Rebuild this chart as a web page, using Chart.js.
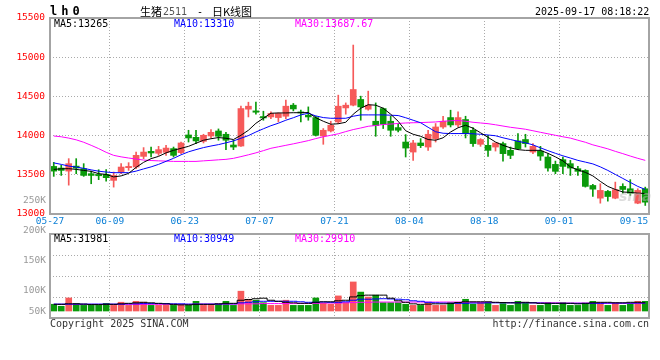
<!DOCTYPE html>
<html><head><meta charset="utf-8">
<script src="https://cdn.jsdelivr.net/npm/chart.js@4.4.1/dist/chart.umd.min.js"></script>
<style>
html,body{margin:0;padding:0;background:#fff;}
#wrap{position:relative;width:660px;height:360px;overflow:hidden;background:#fff;font-family:'DejaVu Sans Mono',monospace;}
.t{position:absolute;white-space:nowrap;line-height:10px;font-size:10px;}
canvas{position:absolute;left:0;}
</style></head>
<body><div id="wrap">
<canvas id="c1" width="660" height="228" style="top:0;width:660px;height:228px"></canvas>
<canvas id="c2" width="660" height="100" style="top:226px;width:660px;height:100px"></canvas>
</div>
<script>
// ---------- data ----------
const dates = ['05-27','05-28','05-29','05-30','06-03','06-04','06-05','06-06','06-09','06-10','06-11','06-12','06-13','06-16','06-17','06-18','06-19','06-20','06-23','06-24','06-25','06-26','06-27','06-30','07-01','07-02','07-03','07-04','07-07','07-08','07-09','07-10','07-11','07-14','07-15','07-16','07-17','07-18','07-21','07-22','07-23','07-24','07-25','07-28','07-29','07-30','07-31','08-01','08-04','08-05','08-06','08-07','08-08','08-11','08-12','08-13','08-14','08-15','08-18','08-19','08-20','08-21','08-22','08-25','08-26','08-27','08-28','08-29','09-01','09-02','09-03','09-04','09-05','09-08','09-09','09-10','09-11','09-12','09-15','09-16'];
const xTickDates = ['05-27','06-09','06-23','07-07','07-21','08-04','08-18','09-01','09-15'];
const xGridDates = ['06-09','06-23','07-07','07-21','08-04','08-18','09-01'];
const openP  = [13607,13586,13547,13611,13578,13514,13505,13505,13429,13535,13591,13599,13735,13799,13774,13786,13834,13783,14008,13978,13927,13995,14059,14017,13880,13867,14337,14315,14243,14238,14230,14247,14388,14302,14260,14230,13995,14059,14174,14353,14388,14461,14337,14183,14345,14183,14102,13918,13790,13906,13854,13962,14110,14230,14136,14205,14068,13889,13876,13854,13898,13812,13932,13950,13790,13803,13727,13633,13693,13642,13578,13556,13364,13202,13288,13202,13352,13322,13138,13322];
const highP  = [13659,13621,13706,13706,13642,13547,13565,13565,13535,13642,13655,13790,13847,13854,13863,13876,13854,13918,14068,14068,14017,14077,14085,14042,13941,14375,14426,14426,14311,14302,14290,14452,14410,14324,14366,14247,14090,14183,14516,14417,15155,14503,14567,14417,14353,14247,14154,14013,13941,13962,14068,14154,14247,14324,14302,14247,14102,13962,14004,13906,13918,13854,14026,14017,13898,13863,13770,13675,13727,13684,13607,13565,13377,13386,13301,13407,13386,13438,13322,13343];
const lowP   = [13480,13492,13368,13514,13480,13386,13438,13420,13343,13514,13556,13578,13706,13727,13748,13748,13727,13770,13918,13898,13906,13970,13941,13821,13821,13863,14238,14273,14196,14217,14174,14217,14315,14174,14196,13995,13889,14046,14154,14273,14379,14196,14324,13991,14090,13991,14046,13727,13684,13847,13812,13918,14090,14110,14110,13970,13863,13863,13735,13803,13675,13706,13821,13854,13770,13684,13547,13514,13514,13492,13492,13343,13223,13138,13164,13194,13266,13236,13131,13109];
const closeP = [13547,13556,13642,13586,13492,13492,13488,13463,13492,13599,13607,13748,13790,13778,13821,13841,13748,13906,13970,13932,14004,14042,13991,13941,13854,14345,14375,14298,14225,14282,14282,14375,14340,14289,14238,14004,14068,14132,14375,14388,14588,14366,14388,14128,14145,14068,14068,13841,13906,13872,14017,14110,14183,14136,14230,14026,13898,13950,13812,13906,13770,13748,13834,13898,13863,13739,13586,13544,13607,13586,13544,13352,13317,13301,13223,13310,13313,13266,13301,13151];
const ma5  = [13569,13576,13578,13569,13556,13544,13514,13505,13473,13486,13518,13595,13659,13706,13735,13780,13812,13838,13863,13902,13941,13960,13975,13966,13950,14004,14068,14157,14221,14285,14289,14289,14292,14292,14294,14228,14183,14145,14151,14170,14273,14349,14394,14388,14349,14273,14183,14062,14017,13991,13950,13941,13972,14046,14100,14132,14094,14036,13978,13918,13876,13844,13821,13812,13812,13812,13774,13729,13678,13601,13563,13531,13486,13416,13352,13313,13281,13275,13266,13262];
const ma10 = [13652,13633,13611,13599,13582,13563,13546,13535,13527,13527,13527,13547,13575,13601,13633,13672,13710,13755,13793,13821,13847,13867,13885,13908,13932,13966,14000,14046,14087,14126,14158,14196,14228,14264,14285,14251,14230,14221,14221,14221,14247,14264,14264,14264,14264,14260,14256,14228,14196,14164,14106,14049,14030,14026,14026,14026,14023,14017,14008,13998,13972,13950,13927,13908,13882,13844,13808,13774,13742,13714,13684,13662,13639,13601,13556,13505,13454,13403,13352,13313];
const ma30 = [13995,13985,13968,13946,13915,13876,13834,13787,13748,13729,13714,13701,13688,13682,13678,13675,13671,13671,13671,13671,13678,13684,13691,13697,13710,13732,13755,13780,13808,13838,13857,13876,13895,13915,13936,13962,13985,14004,14023,14051,14077,14097,14119,14129,14141,14147,14155,14161,14164,14166,14170,14174,14183,14189,14193,14183,14170,14161,14152,14138,14122,14106,14094,14081,14062,14042,14023,14004,13985,13968,13941,13915,13882,13857,13831,13799,13770,13739,13710,13684];
const volume = [26400,18500,51000,29900,22000,22000,22000,29900,22000,34300,22000,37800,34300,22000,22000,22000,22000,22000,22000,37800,22000,22000,26400,37800,22000,77400,45800,42200,32600,22000,22000,42200,22000,22000,22000,51000,29900,26400,59000,32600,113500,73900,54600,61600,32600,32600,32600,26400,22000,22000,32600,22000,22000,32600,32600,45800,26400,32600,32600,22000,29000,22000,37800,32600,22000,22000,32600,22000,32600,22000,22000,29900,37800,32600,22000,32600,22000,29900,37800,37800];
const volMa5  = [26000,26000,28000,28000,27000,25000,25000,26000,26000,28000,30000,32000,34000,32000,30000,28000,26000,24000,24000,26000,26000,26000,28000,30000,30000,42000,45000,48000,50000,42000,38000,34000,32000,30000,30000,34000,36000,36000,40000,42000,55000,60000,62000,62000,62000,50000,40000,34000,28000,26000,27000,28000,28000,30000,33000,36000,36000,36000,36000,34000,33000,32000,32000,34000,32000,30000,30000,30000,30000,30000,28000,30000,32000,34000,34000,32000,32000,34000,34000,31981];
const volMa10 = [27000,27000,27000,27000,27000,27000,27000,27000,27000,27000,28000,28000,29000,29000,29000,29000,28000,28000,27000,27000,27000,27000,27000,28000,28000,32000,34000,36000,38000,38000,38000,38000,38000,36000,34000,34000,35000,34000,34000,36000,42000,46000,46000,47000,48000,47000,46000,44000,40000,38000,34000,32000,31000,30000,30000,30000,31000,31000,32000,32000,32000,32000,32000,32000,32000,31000,30000,30000,30000,30000,30000,30000,30000,30000,31000,31000,31000,31000,31000,30949];
const volMa30 = [26000,26000,26000,26000,26000,26000,26000,26000,26000,26000,26000,26000,26000,26000,26000,26000,26000,26000,26000,27000,27000,27000,27000,27000,27000,28000,28000,28000,29000,29000,29000,29000,29000,30000,30000,30000,31000,31000,31000,32000,33000,34000,34000,35000,35000,35000,35000,35000,35000,35000,35000,35000,35000,35000,35000,34000,34000,34000,34000,33000,33000,33000,33000,33000,32000,32000,32000,32000,31000,31000,31000,31000,30000,30000,30000,30000,30000,30000,30000,29910];
const priceTicks = [13000,13500,14000,14500,15000,15500];
const volTickLabels = ['250K','200K','150K','100K','50K'];
const priceLegend = ['MA5:13265','MA10:13310','MA30:13687.67'];
const volLegend = ['MA5:31981','MA10:30949','MA30:29910'];
const titleCode = 'lh0';
const titleName = ['生猪','2511','-','日K线图'];
const stamp = '2025-09-17 08:18:22';
const footer = ['Copyright 2025 SINA.COM','http://finance.sina.com.cn'];

// ---------- styles ----------
const UP = '#f65a5a', DOWN = '#0a9a0a';
const MA_COLORS = ['#000000','#0000ff','#ff00ff'];
const MONO = "'DejaVu Sans Mono', monospace";
const GRID = '#aaaaaa';
const colors = dates.map((d,i) => closeP[i] >= openP[i] ? UP : DOWN);

// ---------- text ----------
const wrap = document.getElementById('wrap');
function addText(txt, css){ const s=document.createElement('span'); s.className='t'; s.textContent=txt; Object.assign(s.style, css); wrap.appendChild(s); return s; }
addText(titleCode,{left:'50px',top:'5px',fontWeight:'bold',fontSize:'12px',lineHeight:'12px',letterSpacing:'4px',color:'#000'});
const CJK = "'Noto Sans CJK SC',sans-serif";
addText(titleName[0],{left:'140px',top:'6px',fontSize:'11px',lineHeight:'11px',fontFamily:CJK,color:'#000'});
addText(titleName[1],{left:'163px',top:'7px',fontSize:'10px',color:'#555'});
addText(titleName[2],{left:'197px',top:'7px',fontSize:'10px',color:'#000'});
addText(titleName[3],{left:'212px',top:'6px',fontSize:'11px',lineHeight:'11px',fontFamily:CJK,color:'#000'});
addText(stamp,{left:'535px',top:'7px',color:'#000'});
const legX = [54,174,295];
priceLegend.forEach((t,i)=>addText(t,{left:legX[i]+'px',top:'19px',color:MA_COLORS[i]}));
volLegend.forEach((t,i)=>addText(t,{left:legX[i]+'px',top:'234px',color:MA_COLORS[i]}));
const volLabY = [200,230,260,290,311];
volTickLabels.forEach((t,i)=>{ const s=addText(t,{top:(volLabY[i]-5)+'px',color:'#999',fontSize:'9.5px'}); s.style.right=(660-46)+'px'; });
addText(footer[0],{left:'50px',top:'319px',color:'#333'});
const f2=addText(footer[1],{top:'319px',color:'#333'}); f2.style.right='11px';
addText('sina',{left:'619px',top:'189px',fontFamily:'DejaVu Sans, sans-serif',fontStyle:'italic',fontWeight:'bold',fontSize:'14px',lineHeight:'14px',color:'rgba(185,185,185,0.5)'});

// ---------- charts ----------
const frame = { id:'frame', afterDatasetsDraw(chart){ const {ctx, chartArea:a}=chart; ctx.save(); ctx.strokeStyle='#a4a4a4'; ctx.lineWidth=2; ctx.strokeRect(a.left, a.top, a.right-a.left, a.bottom-a.top); ctx.restore(); } };
const xGrid = { offset:true, drawTicks:false, lineWidth:1, color:(c)=> (c.index!==undefined && xGridDates.includes(dates[c.index])) ? GRID : 'rgba(0,0,0,0)' };

function maLine(data, color, stepped){ return {type:'line', data, borderColor:color, borderWidth:1, pointRadius:0, tension:0, stepped: stepped||false, order:0}; }

new Chart(document.getElementById('c1'), {
  type:'bar',
  data:{ labels:dates, datasets:[
    maLine(ma5, MA_COLORS[0]), maLine(ma10, MA_COLORS[1]), maLine(ma30, MA_COLORS[2]),
    {label:'body', data:dates.map((d,i)=>[openP[i], closeP[i]]), backgroundColor:colors, barThickness:6, grouped:false, order:1},
    {label:'wick', data:dates.map((d,i)=>[lowP[i], highP[i]]), backgroundColor:colors, barThickness:1, grouped:false, order:2}
  ]},
  options:{
    responsive:false, animation:false, devicePixelRatio:1,
    layout:{padding:{left:0,right:11,top:18,bottom:0}},
    plugins:{legend:{display:false}, tooltip:{enabled:false}},
    scales:{
      x:{ offset:true, grid:xGrid, border:{display:false, dash:[1,2]},
          ticks:{autoSkip:false, maxRotation:0, minRotation:0, padding:2, labelOffset:-3.74, color:'#0a7fd6', font:{family:MONO,size:9.5},
                 callback:(v,i)=> xTickDates.includes(dates[i]) ? dates[i] : ''},
          afterFit:(s)=>{ s.height = 14; } },
      y:{ min:priceTicks[0], max:priceTicks[priceTicks.length-1],
          afterBuildTicks:(s)=>{ s.ticks = priceTicks.map(v=>({value:v})); },
          ticks:{color:'#ff0000', font:{family:MONO,size:9.5}, padding:5, callback:(v)=>String(v)},
          grid:{drawTicks:false, lineWidth:1, color:(c)=> (c.tick && c.tick.value>priceTicks[0] && c.tick.value<priceTicks[priceTicks.length-1]) ? GRID : 'rgba(0,0,0,0)'},
          border:{display:false, dash:[1,2]},
          afterFit:(s)=>{ s.width = 50; } }
    }
  },
  plugins:[frame]
});

const VMIN = -27300, VMAX = 300800;
new Chart(document.getElementById('c2'), {
  type:'bar',
  data:{ labels:dates, datasets:[
    maLine(volMa5, MA_COLORS[0], 'middle'), maLine(volMa10, MA_COLORS[1], 'middle'), maLine(volMa30, MA_COLORS[2], 'middle'),
    {label:'vol', data:volume, backgroundColor:colors, barThickness:6, order:1}
  ]},
  options:{
    responsive:false, animation:false, devicePixelRatio:1,
    layout:{padding:{left:0,right:11,top:8,bottom:8}},
    plugins:{legend:{display:false}, tooltip:{enabled:false}},
    scales:{
      x:{ offset:true, grid:xGrid, border:{display:false, dash:[1,2]}, ticks:{display:false}, afterFit:(s)=>{ s.height=0; } },
      y:{ min:VMIN, max:VMAX,
          afterBuildTicks:(s)=>{ s.ticks=[0,1,2,3,4].map(k=>({value:VMIN+k*(VMAX-VMIN)/4})); },
          ticks:{display:false},
          grid:{drawTicks:false, lineWidth:1, color:(c)=> (c.index>0 && c.index<4) ? GRID : 'rgba(0,0,0,0)'},
          border:{display:false, dash:[1,2]},
          afterFit:(s)=>{ s.width=50; } }
    }
  },
  plugins:[frame]
});
</script>
</body></html>
